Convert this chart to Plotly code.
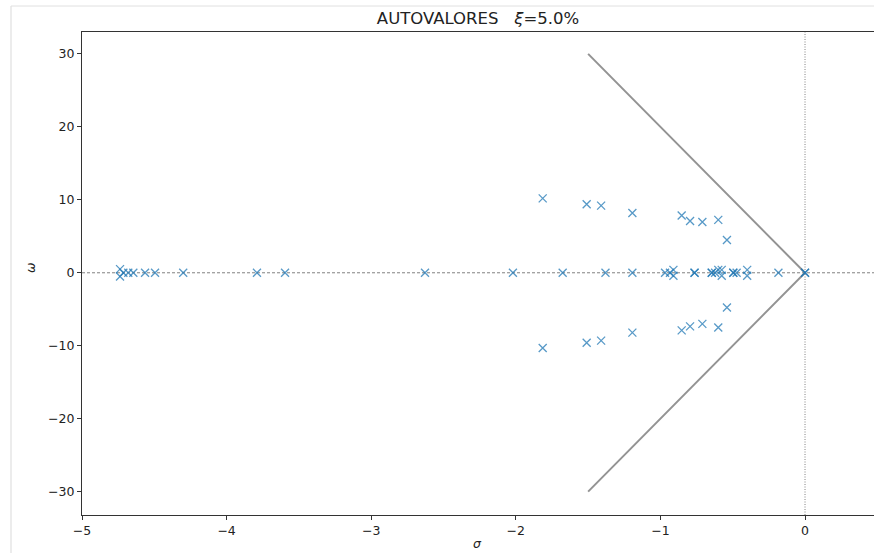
import plotly.graph_objects as go

# Eigenvalues: real part (sigma) and imaginary part (omega)
sigma = [
    -4.737, -4.737, -4.714, -4.68, -4.645, -4.564, -4.495, -4.30, -3.79, -3.596,
    -2.628, -2.02, -1.676, -1.38, -1.194, -0.968, -0.934, -0.91, -0.91, -0.764,
    -0.764, -0.645, -0.645, -0.622, -0.60, -0.576, -0.576, -0.496, -0.496, -0.473,
    -0.40, -0.40, -0.184, 0.0, 0.0,
    -1.814, -1.814, -1.51, -1.51, -1.41, -1.41, -1.194, -1.194, -0.853, -0.853,
    -0.795, -0.795, -0.71, -0.71, -0.60, -0.60, -0.54, -0.54,
]
omega = [
    0.5, -0.5, 0.0, 0.0, 0.0, 0.0, 0.0, 0.0, 0.0, 0.0,
    0.0, 0.0, 0.0, 0.0, 0.0, 0.0, 0.0, 0.4, -0.4, 0.0,
    0.0, 0.0, 0.0, 0.0, 0.4, 0.4, -0.4, 0.0, 0.0, 0.0,
    0.4, -0.4, 0.0, 0.0, 0.0,
    10.2, -10.3, 9.4, -9.6, 9.2, -9.3, 8.2, -8.2, 7.85, -7.9,
    7.1, -7.35, 6.95, -7.0, 7.25, -7.5, 4.5, -4.75,
]

# damping-ratio boundary lines
bound_x = [-1.5, 0.0, -1.5]
bound_y = [30.0, 0.0, -30.0]

x_ticks = [-5, -4, -3, -2, -1, 0]
y_ticks = [-30, -20, -10, 0, 10, 20, 30]

W, H = 874, 553
L, R, T, B = 82, 0, 32, 38
pw, ph = W - L - R, H - T - B

def px2paper_x(p):
    return (p - L) / pw

def py2paper_y(p):
    return (H - B - p) / ph

fig = go.Figure()

fig.add_trace(go.Scatter(
    x=bound_x, y=bound_y, mode="lines",
    line=dict(color="rgba(128,128,128,0.85)", width=2),
    showlegend=False, hoverinfo="skip",
))

fig.add_trace(go.Scatter(
    x=sigma, y=omega, mode="markers",
    marker=dict(symbol="x-thin", size=8,
                line=dict(color="rgba(31,119,180,0.75)", width=1.3)),
    showlegend=False,
))

# reference lines
fig.add_shape(type="line", xref="paper", yref="y", x0=0, x1=1, y0=0, y1=0,
              line=dict(color="rgba(70,70,70,0.85)", width=0.8, dash="3px,2px"), layer="below")
fig.add_shape(type="line", xref="x", yref="paper", x0=0, x1=0, y0=0, y1=1,
              line=dict(color="rgba(70,70,70,0.85)", width=0.8, dash="1px,1.5px"), layer="below")

# screenshot frame lines
fig.add_shape(type="line", xref="paper", yref="paper",
              x0=px2paper_x(11), x1=px2paper_x(11), y0=py2paper_y(6), y1=py2paper_y(553),
              line=dict(color="#d9d9d9", width=1))
fig.add_shape(type="line", xref="paper", yref="paper",
              x0=px2paper_x(11), x1=px2paper_x(874), y0=py2paper_y(6), y1=py2paper_y(6),
              line=dict(color="#e0e0e0", width=1))

font = dict(family="DejaVu Sans", size=12.5, color="#222")

fig.update_layout(
    width=W, height=H,
    margin=dict(l=L, r=R, t=T, b=B),
    plot_bgcolor="white", paper_bgcolor="white",
    font=font,
    title=dict(text="AUTOVALORES   <i>ξ</i>=5.0%", x=px2paper_x(478), xref="paper",
               xanchor="center", y=1 - 18 / H, yref="container", yanchor="middle",
               font=dict(family="DejaVu Sans", size=16.5, color="#222")),
    xaxis=dict(range=[-5, 0.477], tickvals=x_ticks, showgrid=False, zeroline=False,
               showline=True, linecolor="#333", linewidth=1.2, mirror=True,
               ticks="outside", ticklen=4, tickcolor="#333", tickfont=font),
    yaxis=dict(range=[-33.2, 33.0], tickvals=y_ticks, showgrid=False, zeroline=False,
               showline=True, linecolor="#333", linewidth=1.2, mirror=False,
               ticks="outside", ticklen=4, tickcolor="#333", tickfont=font),
    annotations=[
        dict(text="<i>σ</i>", xref="paper", yref="paper", x=px2paper_x(477),
             y=py2paper_y(543), showarrow=False, font=font,
             xanchor="center", yanchor="middle"),
        dict(text="<i>ω</i>", xref="paper", yref="paper", x=px2paper_x(30),
             y=py2paper_y(268), showarrow=False, font=font, textangle=-90,
             xanchor="center", yanchor="middle"),
    ],
)

fig.write_html(
    "out.html",
    config={"displayModeBar": False},
    post_script="document.body.style.margin='0';document.body.style.overflow='hidden';",
)
